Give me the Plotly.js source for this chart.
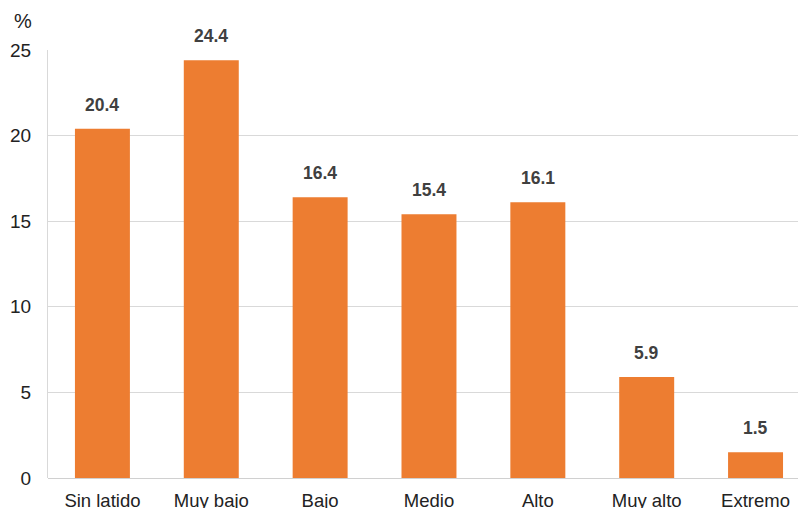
<!DOCTYPE html>
<html><head><meta charset="utf-8">
<script src="https://cdn.plot.ly/plotly-3.0.1.min.js"></script>
<style>body{margin:0;background:#fff}#c{width:798px;height:508px}</style>
</head><body><div id="c"></div>
<script>
const categories = ["Sin latido","Muy bajo","Bajo","Medio","Alto","Muy alto","Extremo"];
const values = [20.4, 24.4, 16.4, 15.4, 16.1, 5.9, 1.5];
const yTicks = [0, 5, 10, 15, 20, 25];
const unitLabel = "%";

const trace = {
  type: "bar", x: categories, y: values, width: 0.505,
  marker: {color: "#ED7D31"}, hoverinfo: "none"
};
const annotations = categories.map((c, i) => ({
  x: c, y: values[i], xref: "x", yref: "y", text: values[i].toFixed(1),
  showarrow: false, yanchor: "bottom", yshift: 12,
  font: {family: "Liberation Sans, Arial, sans-serif", size: 17.5, color: "#404040", weight: "bold"}
}));
annotations.push({
  xref: "paper", yref: "paper", x: -0.033, y: 1.068, xanchor: "center", yanchor: "middle",
  text: unitLabel, showarrow: false,
  font: {family: "Liberation Sans, Arial, sans-serif", size: 20, color: "#222"}
});
const layout = {
  width: 798, height: 508,
  margin: {l: 48, r: 0, t: 50, b: 30},
  paper_bgcolor: "#fff", plot_bgcolor: "#fff",
  showlegend: false,
  font: {family: "Liberation Sans, Arial, sans-serif", size: 18, color: "#222"},
  xaxis: {
    range: [-0.5, 6.39], showgrid: false, zeroline: false,
    showline: false, ticks: "", tickfont: {size: 18.5, color: "#222"},
    ticklabelstandoff: 9
  },
  yaxis: {
    range: [0, 25], tickvals: yTicks, showgrid: true, gridcolor: "#d9d9d9", gridwidth: 1,
    zeroline: true, zerolinecolor: "#d0d0d0", zerolinewidth: 1,
    showline: true, linecolor: "#d9d9d9", linewidth: 1, ticks: "",
    tickfont: {size: 19, color: "#222"}, ticklabelstandoff: 12
  },
  annotations: annotations
};
Plotly.newPlot("c", [trace], layout, {displayModeBar: false, staticPlot: true});
</script></body></html>
